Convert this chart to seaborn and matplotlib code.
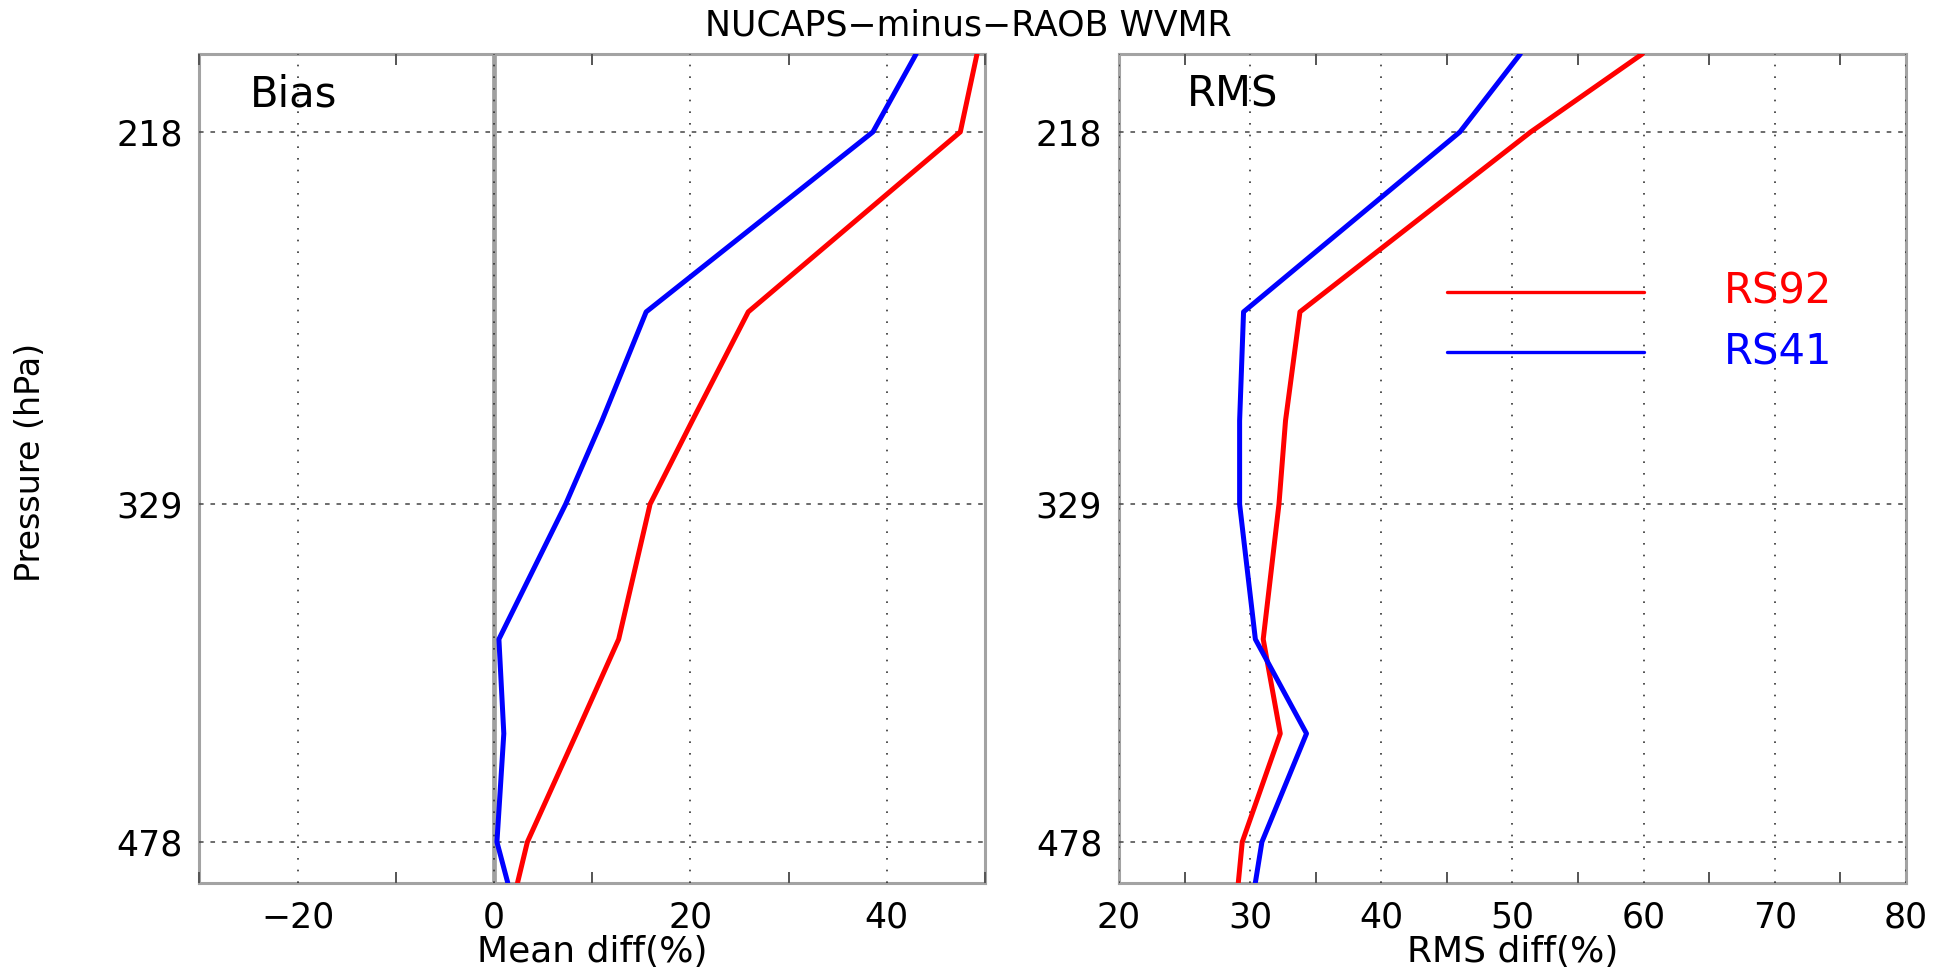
import matplotlib
matplotlib.use("Agg")
import matplotlib.pyplot as plt
import numpy as np
import pandas as pd
import seaborn as sns
from matplotlib.ticker import FixedLocator, MultipleLocator, NullLocator, FixedFormatter

# Pressure levels (hPa) of the profile vertices
pressure = [200, 218, 266, 300, 329, 382, 424, 478, 500]

# NUCAPS minus RAOB water vapour mixing ratio statistics (%)
bias_rs92 = [49.2, 47.5, 25.9, 20.2, 15.9, 12.7, 8.4, 3.4, 2.4]
bias_rs41 = [43.0, 38.6, 15.5, 11.0, 7.3, 0.5, 1.0, 0.3, 1.4]
rms_rs92 = [59.9, 51.4, 33.8, 32.7, 32.2, 31.0, 32.3, 29.4, 29.1]
rms_rs41 = [50.6, 46.0, 29.5, 29.2, 29.2, 30.4, 34.3, 30.9, 30.4]

series_names = ["RS92", "RS41"]
series_colors = ["#ff0000", "#0000ff"]
pressure_ticks = [218, 329, 478]
pressure_labels = ["218", "329", "478"]

title = "NUCAPS\u2212minus\u2212RAOB WVMR"
panel_names = ["Bias", "RMS"]
x_labels = ["Mean diff(%)", "RMS diff(%)"]
y_label = "Pressure (hPa)"


def long_frame(rs92, rs41):
    return pd.DataFrame({
        "pressure": pressure + pressure,
        "value": rs92 + rs41,
        "sonde": [series_names[0]] * len(pressure) + [series_names[1]] * len(pressure),
    })


sns.set_theme(style="white")
plt.rcParams["font.family"] = ["DejaVu Sans"]
plt.rcParams["axes.unicode_minus"] = True
plt.rcParams["text.color"] = "black"
plt.rcParams["axes.labelcolor"] = "black"

fig = plt.figure(figsize=(19.46, 9.67), dpi=100)
ax_bias = fig.add_axes([0.1025, 0.0872, 0.4036, 0.857])
ax_rms = fig.add_axes([0.575, 0.0872, 0.4044, 0.857])

palette = dict(zip(series_names, series_colors))

tick_size = 25
label_size = 26
panels = [
    (ax_bias, long_frame(bias_rs92, bias_rs41), (-30, 50), 20, 10, 0.064),
    (ax_rms, long_frame(rms_rs92, rms_rs41), (20, 80), 10, 5, 0.086),
]

for i, (ax, df, xlim, major, minor, name_x) in enumerate(panels):
    ax.set_yscale("log")
    sns.lineplot(data=df, x="value", y="pressure", hue="sonde", palette=palette,
                 orient="y", legend=False, linewidth=3.6, ax=ax, zorder=3,
                 estimator=None)
    ax.set_xlim(*xlim)
    ax.set_ylim(500, 200)

    ax.yaxis.set_major_locator(FixedLocator(pressure_ticks))
    ax.yaxis.set_major_formatter(FixedFormatter(pressure_labels))
    ax.yaxis.set_minor_locator(NullLocator())
    ax.xaxis.set_major_locator(MultipleLocator(major))
    ax.xaxis.set_minor_locator(MultipleLocator(minor))

    ax.set_axisbelow(True)
    ax.xaxis.grid(True, which="major", linestyle=(0, (1.0, 6.0)), color="#333333",
                  linewidth=1.2)
    ax.yaxis.grid(True, which="major", linestyle=(0, (3.0, 4.5)), color="#444444",
                  linewidth=1.1)

    for side, spine in ax.spines.items():
        spine.set_color("#a3a3a3")
        spine.set_linewidth(2.2)
        spine.set_zorder(0.4)
        spine.set_visible(True)

    ax.tick_params(axis="x", which="major", length=0, pad=13, labelsize=tick_size,
                   colors="black")
    ax.tick_params(axis="x", which="minor", direction="in", length=8, width=1.4,
                   color="#555555", top=True, bottom=True)
    ax.tick_params(axis="y", which="major", length=0, pad=12, labelsize=tick_size,
                   colors="black")

    ax.set_xlabel(x_labels[i], fontsize=label_size, color="black")
    ax.xaxis.set_label_coords(0.5, -0.063)
    ax.set_ylabel("")
    ax.text(name_x, 0.936, panel_names[i], transform=ax.transAxes, fontsize=30,
            ha="left", va="baseline", color="black")

# Zero reference line for the bias panel
ax_bias.axvline(0, color="#a0a0a0", linewidth=3.4, zorder=0.45)

# Legend drawn inside the RMS panel
legend_rows = [0.713, 0.640]
for name, color, yfrac in zip(series_names, series_colors, legend_rows):
    ax_rms.plot([0.417, 0.667], [yfrac, yfrac], transform=ax_rms.transAxes,
                color=color, linewidth=2.4, zorder=3)
    ax_rms.text(0.769, yfrac, name, transform=ax_rms.transAxes, color=color,
                fontsize=30, ha="left", va="center")

fig.text(31 / 1946, 0.522, y_label, rotation=90, ha="center", va="center",
         fontsize=24, color="black")
fig.text(0.4975, 1 - 25 / 967, title, ha="center", va="center", fontsize=25,
         color="black")

fig.savefig("out.png", dpi=100, facecolor="white")
